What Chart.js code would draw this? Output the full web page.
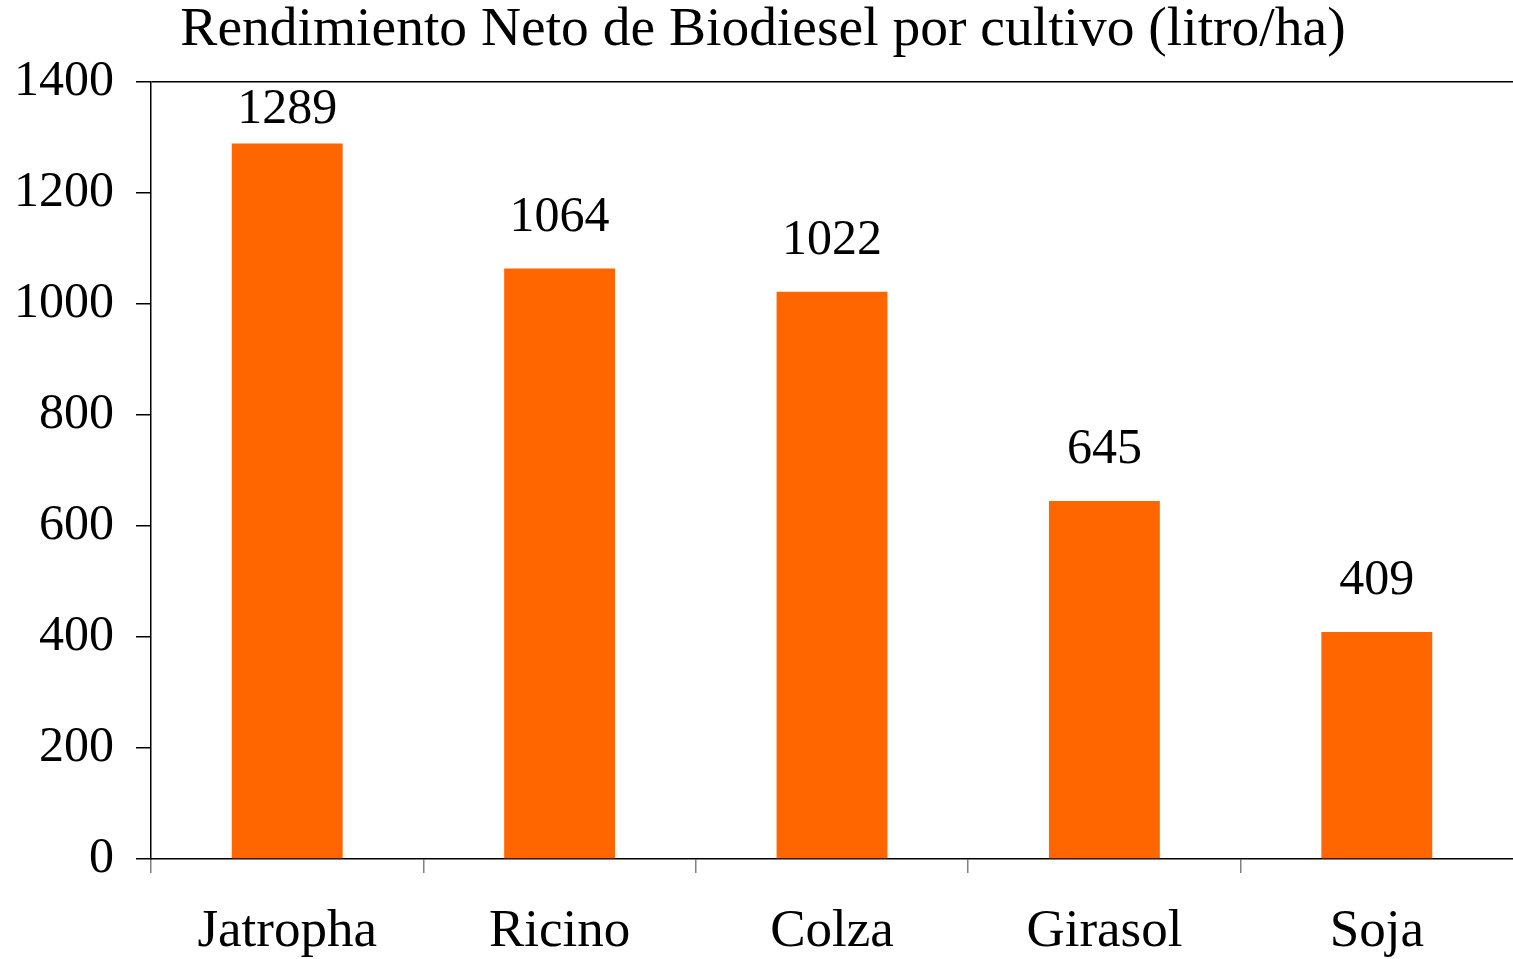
<!DOCTYPE html>
<html>
<head>
<meta charset="utf-8">
<script src="https://cdn.jsdelivr.net/npm/chart.js@4/dist/chart.umd.min.js"></script>
<style>
html,body{margin:0;padding:0;background:#fff;}
#wrap{width:1513px;height:959px;position:relative;}
</style>
</head>
<body>
<div id="wrap"><canvas id="c" width="1513" height="959"></canvas></div>
<script>
const title = "Rendimiento Neto de Biodiesel por cultivo (litro/ha)";
const categories = ["Jatropha", "Ricino", "Colza", "Girasol", "Soja"];
const values = [1289, 1064, 1022, 645, 409];
const yTicks = [0, 200, 400, 600, 800, 1000, 1200, 1400];

const FONT = "'Liberation Serif', 'Times New Roman', serif";

const titlePlugin = {
  id: 'titleDraw',
  afterDraw(chart) {
    const ctx = chart.ctx;
    ctx.save();
    ctx.font = "55.5px " + FONT;
    ctx.fillStyle = "#000";
    ctx.textAlign = "center";
    ctx.textBaseline = "alphabetic";
    ctx.fillText(title, 763, 45);
    ctx.restore();
  }
};

const labelPlugin = {
  id: 'valueLabels',
  afterDatasetsDraw(chart) {
    const ctx = chart.ctx;
    const meta = chart.getDatasetMeta(0);
    ctx.save();
    ctx.font = "50px " + FONT;
    ctx.fillStyle = "#000";
    ctx.textAlign = "center";
    ctx.textBaseline = "middle";
    meta.data.forEach((bar, i) => {
      let y = bar.y - 51;
      y = Math.max(y, chart.chartArea.top + 28);
      ctx.fillText(String(values[i]), bar.x, y);
    });
    ctx.restore();
  }
};

new Chart(document.getElementById('c'), {
  type: 'bar',
  data: {
    labels: categories,
    datasets: [{
      data: values,
      backgroundColor: '#FF6600',
      borderWidth: 0,
      categoryPercentage: 1.0,
      barPercentage: 0.407
    }]
  },
  options: {
    responsive: false,
    animation: false,
    devicePixelRatio: 1,
    layout: { padding: { top: 82, right: 0, left: 0, bottom: 0 } },
    plugins: {
      legend: { display: false },
      title: { display: false },
      tooltip: { enabled: false }
    },
    scales: {
      x: {
        offset: true,
        grid: {
          offset: true,
          drawOnChartArea: false,
          tickLength: 14,
          color: (c) => (c.type !== 'tick' || c.index >= categories.length) ? 'rgba(0,0,0,0)' : '#808080',
          lineWidth: 1.5
        },
        border: { display: true, color: '#000', width: 1.5 },
        ticks: {
          color: '#000',
          font: { family: FONT, size: 53 },
          padding: 27,
          maxRotation: 0,
          minRotation: 0
        },
        afterFit(scale) { scale.height = 100; }
      },
      y: {
        min: 0,
        max: 1400,
        afterBuildTicks(scale) { scale.ticks = yTicks.map(v => ({ value: v })); },
        grid: {
          drawOnChartArea: true,
          tickLength: 15,
          color: (c) => (c.tick && c.tick.value === 1400) ? '#000' : 'rgba(0,0,0,0)',
          tickColor: '#000',
          lineWidth: 1.5
        },
        border: { display: true, color: '#000', width: 1.5 },
        ticks: {
          color: '#000',
          font: { family: FONT, size: 50 },
          padding: 22,
          callback: (v) => String(v)
        },
        afterFit(scale) { scale.width = 151; }
      }
    }
  },
  plugins: [titlePlugin, labelPlugin]
});
</script>
</body>
</html>
